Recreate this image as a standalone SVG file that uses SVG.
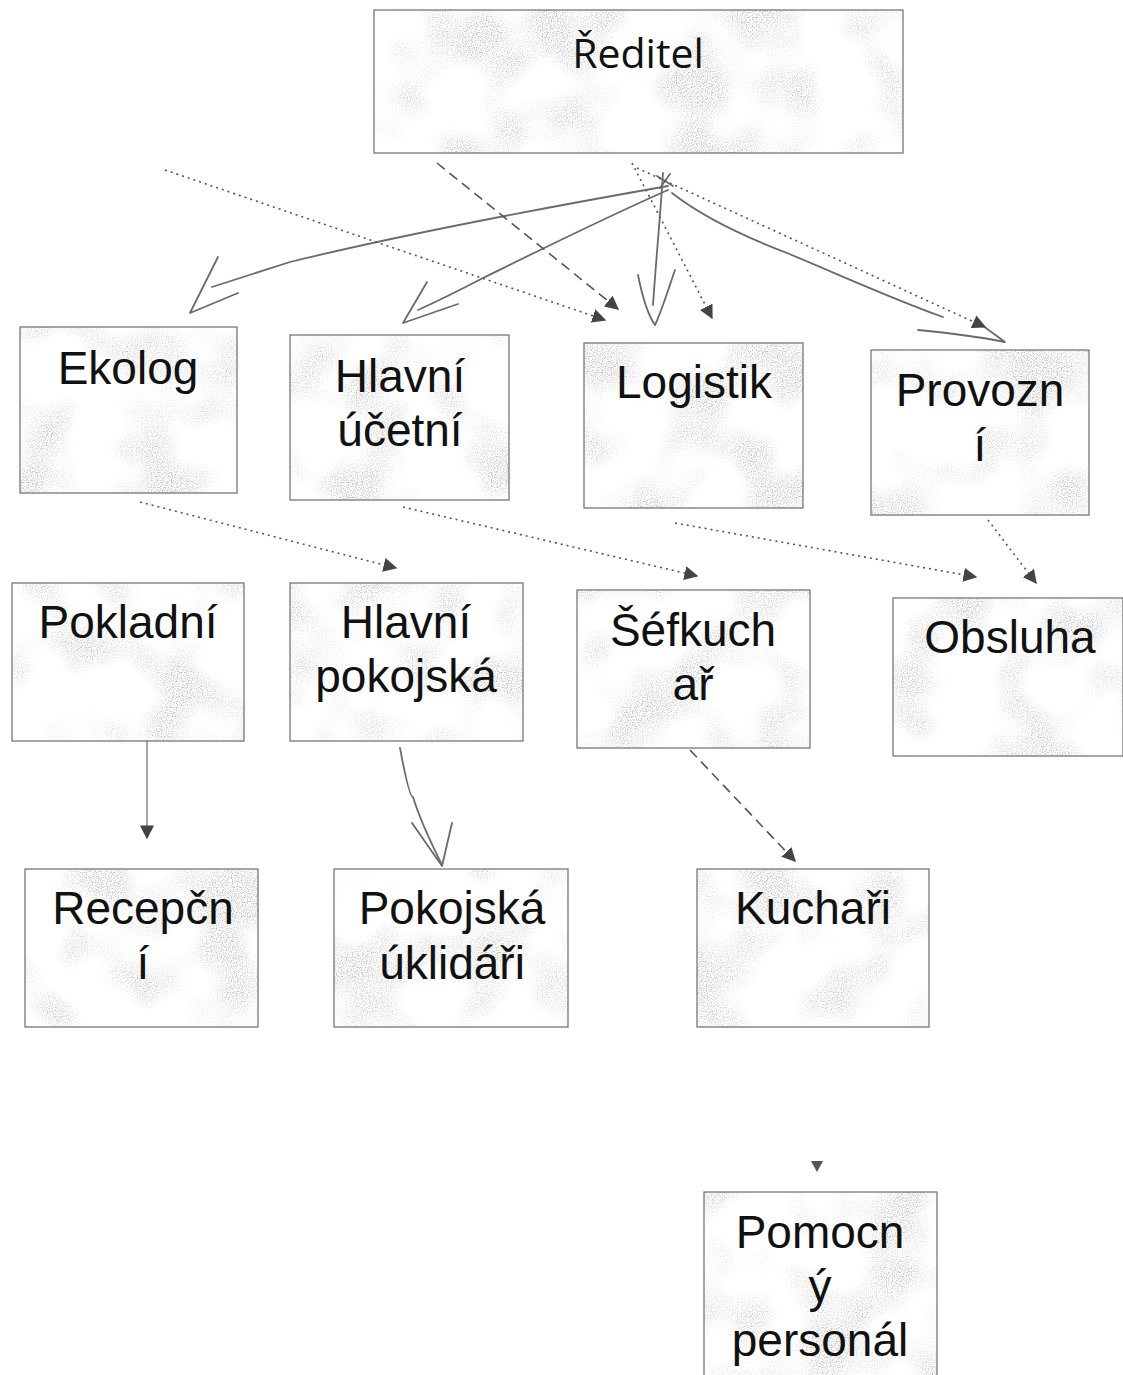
<svg xmlns="http://www.w3.org/2000/svg" width="1123" height="1375" viewBox="0 0 1123 1375">
<style>
.bg{fill:#fff}
.gr{fill:#fff;filter:url(#grain)}
.bd{fill:none;stroke:#777;stroke-width:1.3}
.t{font-family:"Liberation Sans",Arial,sans-serif;font-size:46px;fill:#111;text-anchor:middle}
.t0{font-family:"Open Sans","DejaVu Sans",sans-serif;font-size:41px;fill:#111;text-anchor:middle}
.hand{fill:none;stroke:#6a6a6a;stroke-width:1.8;stroke-linecap:round;stroke-linejoin:round}
.dot{fill:none;stroke:#555;stroke-width:1.6;stroke-dasharray:2 4}
.dash{fill:none;stroke:#555;stroke-width:1.6;stroke-dasharray:10 6}
.sol{fill:none;stroke:#666;stroke-width:1.2}
</style>
<defs>
<filter id="grain" x="0" y="0" width="1" height="1">
<feTurbulence type="fractalNoise" baseFrequency="0.8" numOctaves="1" seed="2" result="hi"/>
<feTurbulence type="fractalNoise" baseFrequency="0.015" numOctaves="2" seed="7" result="lo"/>
<feColorMatrix in="hi" type="matrix" values="0 0 0 0 0.5 0 0 0 0 0.5 0 0 0 0 0.5 3 0 0 0 -1.3" result="hiA"/>
<feColorMatrix in="lo" type="matrix" values="0 0 0 0 0 0 0 0 0 0 0 0 0 0 0 4 0 0 0 -1.8" result="loA"/>
<feComposite in="hiA" in2="loA" operator="in" result="sp"/>
<feComposite in="sp" in2="SourceGraphic" operator="in"/>
</filter>
<marker id="tri" viewBox="0 0 10 10" refX="9" refY="5" markerWidth="14" markerHeight="14" markerUnits="userSpaceOnUse" orient="auto">
<path d="M0,0 L10,5 L0,10 Z" fill="#444"/>
</marker>
</defs>

<g id="n-reditel"><rect class="bg" x="374" y="10" width="529" height="143"/><rect class="gr" x="374" y="10" width="529" height="143"/><rect class="bd" x="374" y="10" width="529" height="143"/><text class="t0" x="638" y="68">Ředitel</text></g>
<g id="n-ekolog"><rect class="bg" x="20" y="327" width="217" height="166"/><rect class="gr" x="20" y="327" width="217" height="166"/><rect class="bd" x="20" y="327" width="217" height="166"/><text class="t" x="128" y="384">Ekolog</text></g>
<g id="n-ucetni"><rect class="bg" x="290" y="335" width="219" height="165"/><rect class="gr" x="290" y="335" width="219" height="165"/><rect class="bd" x="290" y="335" width="219" height="165"/><text class="t" x="400" y="392">Hlavní</text><text class="t" x="400" y="446">účetní</text></g>
<g id="n-logistik"><rect class="bg" x="584" y="343" width="219" height="165"/><rect class="gr" x="584" y="343" width="219" height="165"/><rect class="bd" x="584" y="343" width="219" height="165"/><text class="t" x="694" y="398">Logistik</text></g>
<g id="n-provozni"><rect class="bg" x="871" y="350" width="218" height="165"/><rect class="gr" x="871" y="350" width="218" height="165"/><rect class="bd" x="871" y="350" width="218" height="165"/><text class="t" x="980" y="406">Provozn</text><text class="t" x="980" y="461">í</text></g>
<g id="n-pokladni"><rect class="bg" x="12" y="583" width="232" height="158"/><rect class="gr" x="12" y="583" width="232" height="158"/><rect class="bd" x="12" y="583" width="232" height="158"/><text class="t" x="128" y="638">Pokladní</text></g>
<g id="n-pokojska"><rect class="bg" x="290" y="583" width="233" height="158"/><rect class="gr" x="290" y="583" width="233" height="158"/><rect class="bd" x="290" y="583" width="233" height="158"/><text class="t" x="406" y="638">Hlavní</text><text class="t" x="406" y="692">pokojská</text></g>
<g id="n-sefkuchar"><rect class="bg" x="577" y="590" width="233" height="158"/><rect class="gr" x="577" y="590" width="233" height="158"/><rect class="bd" x="577" y="590" width="233" height="158"/><text class="t" x="693" y="646">Šéfkuch</text><text class="t" x="693" y="700">ař</text></g>
<g id="n-obsluha"><rect class="bg" x="893" y="598" width="230" height="158"/><rect class="gr" x="893" y="598" width="230" height="158"/><rect class="bd" x="893" y="598" width="230" height="158"/><text class="t" x="1010" y="653">Obsluha</text></g>
<g id="n-recepcni"><rect class="bg" x="25" y="869" width="233" height="158"/><rect class="gr" x="25" y="869" width="233" height="158"/><rect class="bd" x="25" y="869" width="233" height="158"/><text class="t" x="143" y="924">Recepčn</text><text class="t" x="143" y="979">í</text></g>
<g id="n-uklidari"><rect class="bg" x="334" y="869" width="234" height="158"/><rect class="gr" x="334" y="869" width="234" height="158"/><rect class="bd" x="334" y="869" width="234" height="158"/><text class="t" x="452" y="924">Pokojská</text><text class="t" x="452" y="979">úklidáři</text></g>
<g id="n-kuchari"><rect class="bg" x="697" y="869" width="232" height="158"/><rect class="gr" x="697" y="869" width="232" height="158"/><rect class="bd" x="697" y="869" width="232" height="158"/><text class="t" x="813" y="924">Kuchaři</text></g>
<g id="n-pomocny"><rect class="bg" x="704" y="1192" width="233" height="190"/><rect class="gr" x="704" y="1192" width="233" height="190"/><rect class="bd" x="704" y="1192" width="233" height="190"/><text class="t" x="820" y="1248">Pomocn</text><text class="t" x="820" y="1302">ý</text><text class="t" x="820" y="1356">personál</text></g>

<g id="connectors">
<path class="hand" d="M668,186 C560,205 400,235 290,262 L212,287"/>
<path class="hand" d="M218,257 L190,313 L238,293"/>
<path class="hand" d="M668,190 C600,220 540,250 483,278 C460,290 440,300 418,310"/>
<path class="hand" d="M427,282 L403,323 L458,304"/>
<path class="hand" d="M663,173 C660,220 656,260 653,305"/>
<path class="hand" d="M638,275 C643,300 648,315 655,325 C662,310 668,290 675,270"/>
<path class="hand" d="M672,193 C700,215 740,235 787,253 C840,275 890,298 943,317"/>
<path class="hand" d="M918,330 C950,333 980,337 1005,342 L975,320"/>
<path class="hand" d="M657,176 L673,186 M670,174 L660,188"/>
<path class="dot" d="M165,170 L605,320" marker-end="url(#tri)"/>
<path class="dash" d="M437,163 L618,309" stroke-dasharray="8 5" marker-end="url(#tri)"/>
<path class="dot" d="M632,163 L712,318" marker-end="url(#tri)"/>
<path class="dot" d="M637,168 L985,327" marker-end="url(#tri)"/>
<path class="dot" d="M140,502 L396,568" marker-end="url(#tri)"/>
<path class="dot" d="M403,507 L697,576" marker-end="url(#tri)"/>
<path class="dot" d="M675,523 L976,577" marker-end="url(#tri)"/>
<path class="dot" d="M988,520 L1036,583" marker-end="url(#tri)"/>
<path class="sol" d="M147,741 L147,838" marker-end="url(#tri)"/>
<path class="hand" d="M400,748 C405,775 410,797 413,797 C420,820 432,845 442,865"/>
<path class="hand" d="M412,823 L442,866 L452,823"/>
<path class="dash" d="M690,750 L795,861" marker-end="url(#tri)"/>
<path d="M811,1161 L823,1161 L817,1172 Z" fill="#555"/>
</g>
</svg>
